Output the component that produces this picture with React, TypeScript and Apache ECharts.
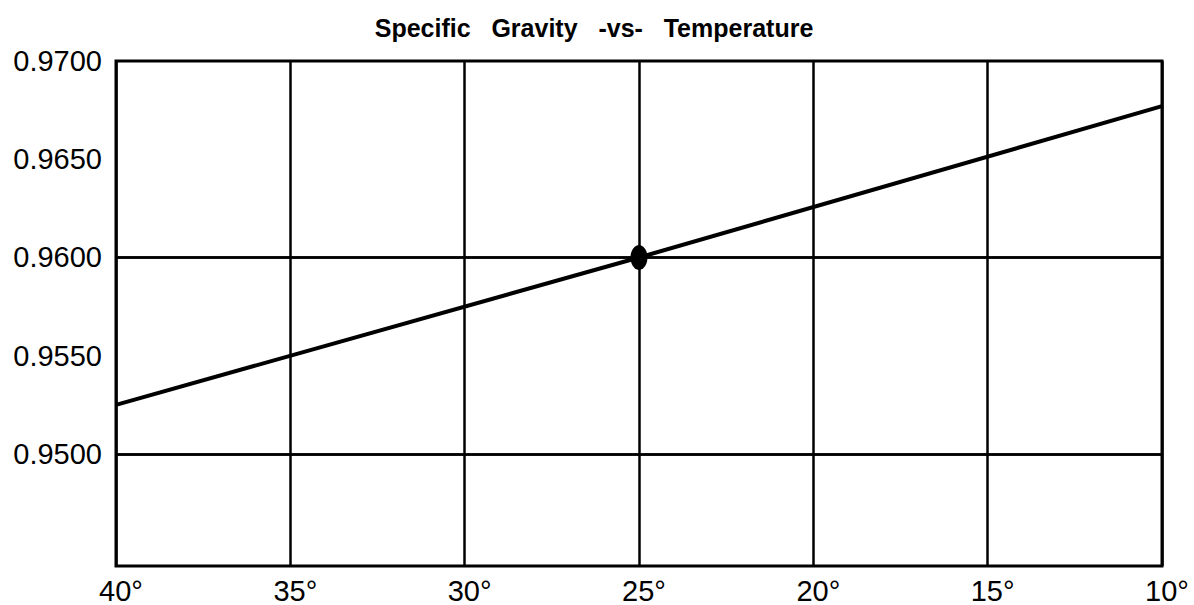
import React, { useEffect, useRef } from "react";
import * as echarts from "echarts";

const titleText = "Specific   Gravity   -vs-   Temperature";
const lineTemps = [40, 25, 10];
const lineGravity = [0.9525, 0.96, 0.9677];
const markerTemps = [25];
const markerGravity = [0.96];
const yTickValues = [0.95, 0.955, 0.96, 0.965, 0.97];
const yGridValues = [0.95, 0.955, 0.96, 0.965];
const xTickValues = [40, 35, 30, 25, 20, 15, 10];

const FONT = "'Liberation Sans', Arial, Helvetica, sans-serif";

export default function App() {
  const ref = useRef<HTMLDivElement>(null);
  useEffect(() => {
    if (!ref.current) return;
    const chart = echarts.init(ref.current, null, { renderer: "svg" });
    chart.setOption({
      animation: false,
      backgroundColor: "#ffffff",
      title: {
        text: titleText,
        left: 589,
        textAlign: "center",
        top: 10,
        textStyle: { fontFamily: FONT, fontSize: 25, fontWeight: "bold", color: "#000" },
      },
      grid: {
        left: 116,
        right: 32,
        top: 61,
        bottom: 39,
        show: true,
        borderColor: "#000",
        borderWidth: 3,
        backgroundColor: "transparent",
      },
      xAxis: {
        type: "value",
        min: 10,
        max: 40,
        interval: 5,
        inverse: true,
        axisLine: { show: false },
        axisTick: { show: false },
        splitLine: { show: true, lineStyle: { color: "#000", width: 2.5 } },
        axisLabel: {
          color: "#000",
          fontFamily: FONT,
          fontSize: 29,
          margin: 10,
          showMinLabel: true,
          showMaxLabel: true,
          padding: [0, 0, 0, 10],
          formatter: (v: number) => (xTickValues.includes(v) ? `${v}°` : ""),
        },
      },
      yAxis: {
        type: "value",
        min: 0.9443,
        max: 0.97,
        axisLine: { show: false },
        axisTick: { show: false },
        splitLine: { show: false },
        axisLabel: {
          color: "#000",
          fontFamily: FONT,
          fontSize: 29,
          margin: 14,
          customValues: yTickValues,
          formatter: (v: number) => v.toFixed(4),
        },
      },
      series: [
        {
          type: "line",
          data: [],
          silent: true,
          markLine: {
            silent: true,
            symbol: "none",
            label: { show: false },
            lineStyle: { color: "#000", width: 2.5, type: "solid" },
            data: yGridValues.map((v) => ({ yAxis: v })),
          },
        },
        {
          type: "line",
          data: lineTemps.map((t, i) => [t, lineGravity[i]]),
          showSymbol: false,
          symbol: "none",
          lineStyle: { color: "#000", width: 4 },
          z: 5,
        },
        {
          type: "scatter",
          data: markerTemps.map((t, i) => [t, markerGravity[i]]),
          symbol: "circle",
          symbolSize: [17, 25],
          itemStyle: { color: "#000", opacity: 1 },
          z: 6,
        },
      ],
    });
    return () => chart.dispose();
  }, []);
  return <div ref={ref} style={{ width: 1194, height: 605, position: "absolute", left: 0, top: 0 }} />;
}
